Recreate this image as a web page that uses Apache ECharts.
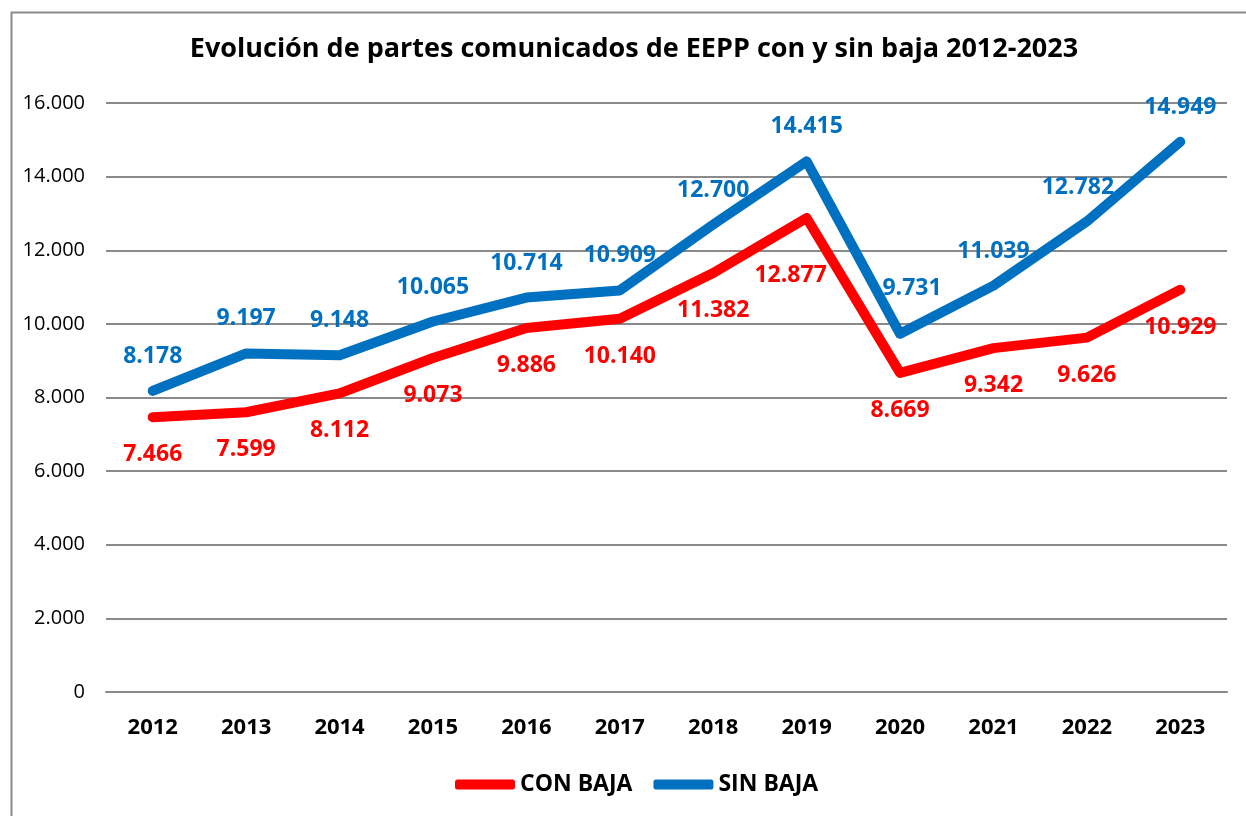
<!DOCTYPE html>
<html>
<head>
<meta charset="utf-8">
<script src="https://cdn.jsdelivr.net/npm/echarts@6/dist/echarts.min.js"></script>
<style>
  html, body { margin: 0; padding: 0; background: #fff; }
  #chart { width: 1246px; height: 816px; }
</style>
</head>
<body>
<div id="chart"></div>
<script>
// Years on the category axis
const years = ['2012', '2013', '2014', '2015', '2016', '2017', '2018', '2019', '2020', '2021', '2022', '2023'];
// Reports with sick leave
const conBaja = [7466, 7599, 8112, 9073, 9886, 10140, 11382, 12877, 8669, 9342, 9626, 10929];
// Reports without sick leave
const sinBaja = [8178, 9197, 9148, 10065, 10714, 10909, 12700, 14415, 9731, 11039, 12782, 14949];
// Value axis range
const yMin = 0, yMax = 16000, yStep = 2000;

// A few labels are nudged off their default spot (pixel offsets by year index)
const conBajaNudge = { 7: [-16, 20] };
const sinBajaNudge = { 8: [12, -11], 10: [-9, 0] };

const FONT = '"Open Sans", "Noto Sans", sans-serif';
const RED = '#ff0000';
const BLUE = '#0070c0';
const fmt = v => String(Math.round(v)).replace(/\B(?=(\d{3})+(?!\d))/g, '.');

const withNudge = (values, nudge) => values.map((v, i) =>
  nudge[i] ? { value: v, label: { offset: nudge[i] } } : v);

const lineSeries = (name, values, color) => ({
  name, type: 'line', data: values, color,
  symbol: 'none',
  lineStyle: { width: 10, color, cap: 'round', join: 'round' },
  z: 2
});

// Value labels sit in their own layer so they stay above both lines
const labelSeries = (name, values, nudge, color, position, distance) => ({
  name, type: 'line', data: withNudge(values, nudge),
  symbol: 'circle', symbolSize: 2, showSymbol: true,
  itemStyle: { color },
  lineStyle: { width: 0, opacity: 0 },
  label: {
    show: true, position, distance,
    formatter: p => fmt(p.value),
    fontFamily: FONT, fontWeight: 'bold', fontSize: 23, color
  },
  z: 5
});

const chart = echarts.init(document.getElementById('chart'), null, { renderer: 'canvas' });

chart.setOption({
  animation: false,
  backgroundColor: '#ffffff',
  textStyle: { fontFamily: FONT },
  graphic: [{
    type: 'rect',
    left: 9, top: 10,
    shape: { width: 1400, height: 1000 },
    style: { fill: 'none', stroke: '#8a8a8a', lineWidth: 2 },
    silent: true
  }, {
    type: 'text',
    x: 634, y: 36,
    style: {
      text: 'Evolución de partes comunicados de EEPP con y sin baja 2012-2023',
      align: 'center',
      fontFamily: FONT, fontWeight: 'bold', fontSize: 27, fill: '#000'
    },
    silent: true
  }],
  legend: {
    bottom: 15,
    left: 450,
    icon: 'roundRect',
    itemWidth: 60,
    itemHeight: 10,
    itemGap: 21,
    textStyle: { fontFamily: FONT, fontWeight: 'bold', fontSize: 23, color: '#000' },
    data: ['CON BAJA', 'SIN BAJA']
  },
  grid: { left: 106, right: 19, top: 103, bottom: 124, containLabel: false },
  xAxis: {
    type: 'category',
    data: years,
    boundaryGap: true,
    axisLine: { show: true, lineStyle: { color: '#8a8a8a', width: 2 } },
    axisTick: { show: false },
    axisLabel: { margin: 25, fontFamily: FONT, fontWeight: 'bold', fontSize: 22, color: '#000' }
  },
  yAxis: {
    type: 'value',
    min: yMin, max: yMax, interval: yStep,
    axisLine: { show: false },
    axisTick: { show: false },
    splitLine: { lineStyle: { color: '#8a8a8a', width: 2 } },
    axisLabel: { margin: 21, fontFamily: FONT, fontSize: 20, color: '#000', formatter: fmt }
  },
  series: [
    lineSeries('CON BAJA', conBaja, RED),
    lineSeries('SIN BAJA', sinBaja, BLUE),
    labelSeries('con-baja-values', conBaja, conBajaNudge, RED, 'bottom', 25),
    labelSeries('sin-baja-values', sinBaja, sinBajaNudge, BLUE, 'top', 22)
  ]
});
</script>
</body>
</html>
